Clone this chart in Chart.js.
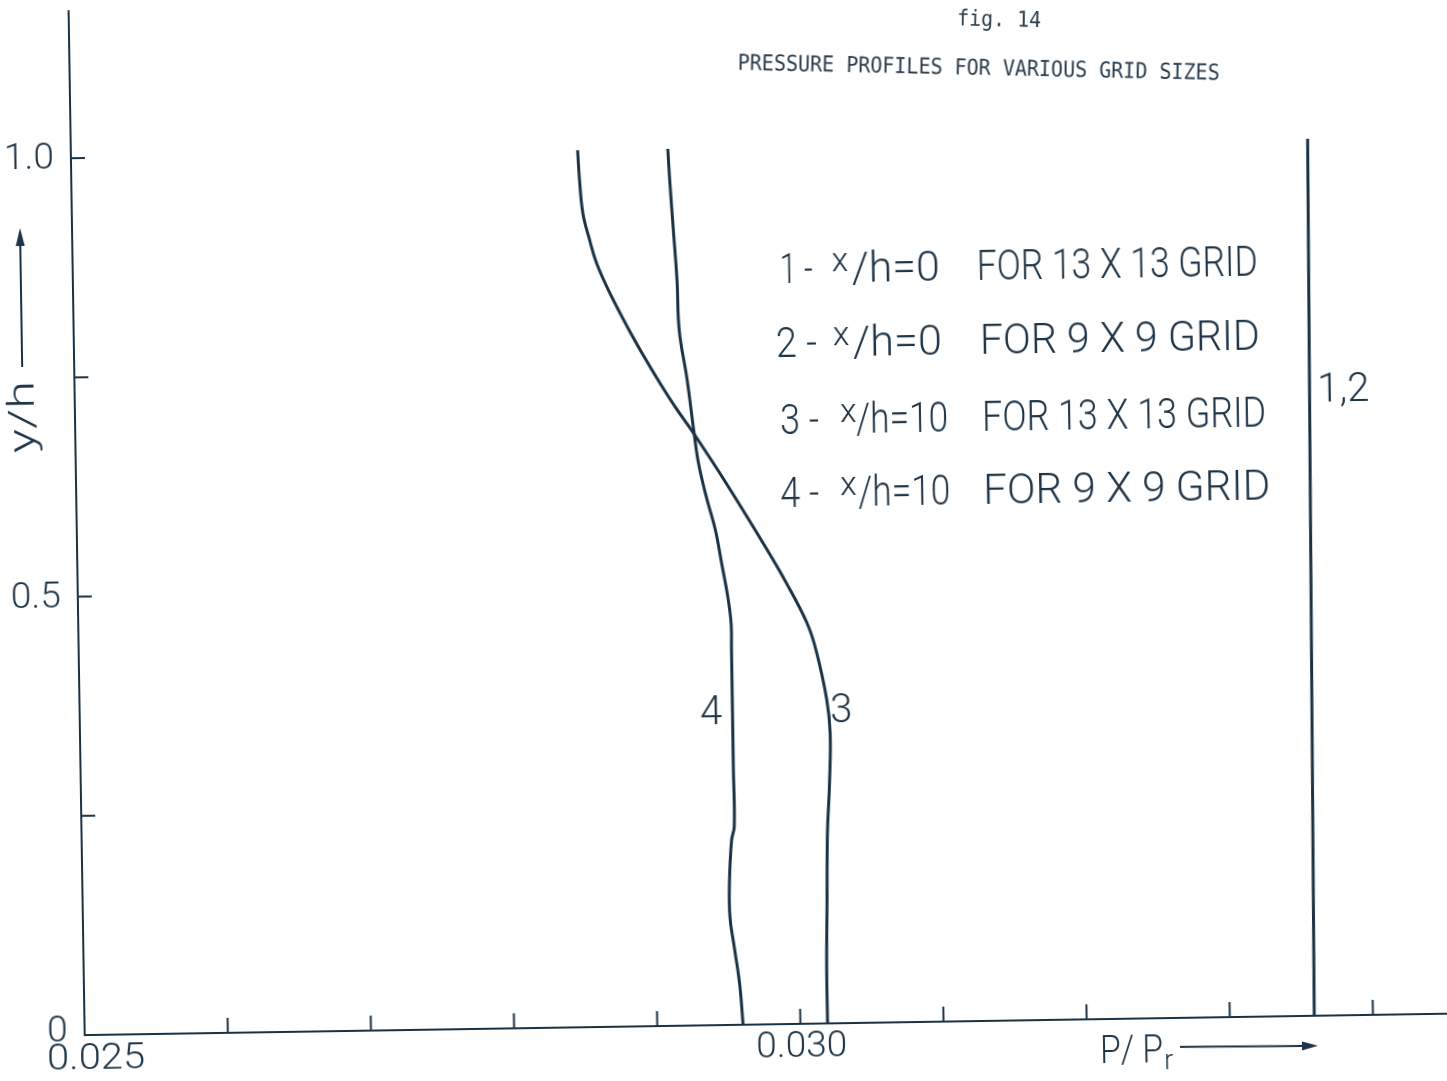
<!DOCTYPE html>
<html>
<head>
<meta charset="utf-8">
<title>Pressure profiles for various grid sizes</title>
<script src="https://cdn.jsdelivr.net/npm/chart.js@4.4.1/dist/chart.umd.min.js"></script>
<style>
  html, body { margin: 0; padding: 0; background: #fff; overflow: hidden; }
  /* the scanned sheet sits a little skewed */
  #wrap { width: 1447px; height: 1081px; transform: rotate(-0.9deg); transform-origin: 50% 50%; }
  canvas { display: block; }
</style>
</head>
<body>
<div id="wrap"><canvas id="chart" width="1447" height="1081"></canvas></div>
<script>
// ===============================
// data
// ===============================
const curve12X = [0.03359, 0.03364];
const curve12Y = [0, 1.0];

const curve3X = [0.02854, 0.02855, 0.02857, 0.02861, 0.02866, 0.02876, 0.02888, 0.02898, 0.02909,
  0.02920, 0.02932, 0.02954, 0.02982, 0.02995, 0.03009, 0.03015, 0.03022, 0.03024,
  0.03023, 0.03021, 0.03020, 0.03019, 0.03019];
const curve3Y = [1.0, 0.966, 0.928, 0.900, 0.871, 0.833, 0.794, 0.764, 0.733,
  0.704, 0.675, 0.618, 0.541, 0.503, 0.457, 0.426, 0.369, 0.331,
  0.274, 0.217, 0.141, 0.065, 0];

const curve4X = [0.02917, 0.02918, 0.02920, 0.02922, 0.02923, 0.02928, 0.02932, 0.02935,
  0.02940, 0.02946, 0.02950, 0.02954, 0.02956, 0.02956, 0.02956, 0.02956, 0.02956,
  0.02954, 0.02952, 0.02952, 0.02955, 0.02958, 0.02960];
const curve4Y = [1.0, 0.964, 0.907, 0.850, 0.793, 0.736, 0.679, 0.641,
  0.603, 0.565, 0.527, 0.488, 0.458, 0.428, 0.371, 0.294, 0.226,
  0.211, 0.162, 0.123, 0.085, 0.047, 0];

const xTickValues = [0.026, 0.027, 0.028, 0.029, 0.030, 0.031, 0.032, 0.033, 0.034];
const yTickValues = [0.25, 0.5, 0.75, 1.0];
const yLabelValues = [0, 0.5, 1.0];
const yLabels = ["0", "0.5", "1.0"];
const xLabelValues = [0.025, 0.030];
const xLabels = ["0.025", "0.030"];

const curveLabels = ["4", "3", "1,2"];
const curveLabelX = [0.02941, 0.03032, 0.03368];
const curveLabelY = [0.355, 0.355, 0.711];

const INK = "#1b3245";
const TEXT_INK = "#1f3446";
const LETTER = "'Roboto', 'Lato', 'DejaVu Sans', sans-serif";

function toPoints(xs, ys) {
  return xs.map((x, i) => ({ x: x, y: ys[i] }));
}

// stretch or squeeze a string so it covers the given width
function fitText(ctx, text, x, y, width) {
  const w = ctx.measureText(text).width;
  ctx.save();
  ctx.translate(x, y);
  ctx.scale(width / w, 1);
  ctx.fillText(text, 0, 0);
  ctx.restore();
}

function arrow(ctx, x1, y1, x2, y2, head) {
  const ang = Math.atan2(y2 - y1, x2 - x1);
  const bx = x2 - head * Math.cos(ang);
  const by = y2 - head * Math.sin(ang);
  ctx.beginPath();
  ctx.moveTo(x1, y1);
  ctx.lineTo(bx, by);
  ctx.stroke();
  ctx.beginPath();
  ctx.moveTo(x2, y2);
  ctx.lineTo(bx + 4.5 * Math.sin(ang), by - 4.5 * Math.cos(ang));
  ctx.lineTo(bx - 4.5 * Math.sin(ang), by + 4.5 * Math.cos(ang));
  ctx.closePath();
  ctx.fill();
}

const legendRows = [
  { num: "1 -", numX: 784, numW: 33, supX: 836, rest: "/h=0", restX: 856, restW: 88, grid: "FOR 13 X 13 GRID", gridX: 981, gridW: 281, base: 284 },
  { num: "2 -", numX: 779, numW: 41, supX: 836, rest: "/h=0", restX: 856, restW: 89, grid: "FOR 9 X 9 GRID", gridX: 983, gridW: 280, base: 358 },
  { num: "3 -", numX: 782, numW: 39, supX: 842, rest: "/h=10", restX: 858, restW: 92, grid: "FOR 13 X 13 GRID", gridX: 984, gridW: 284, base: 435 },
  { num: "4 -", numX: 781, numW: 39, supX: 841, rest: "/h=10", restX: 859, restW: 92, grid: "FOR 9 X 9 GRID", gridX: 984, gridW: 287, base: 508 },
];

// ===============================
// ticks, labels and lettering
// ===============================
const lettering = {
  id: "lettering",
  afterDraw(chart) {
    const ctx = chart.ctx;
    const x = chart.scales.x;
    const y = chart.scales.y;
    const area = chart.chartArea;

    ctx.save();
    ctx.strokeStyle = INK;
    ctx.fillStyle = TEXT_INK;
    ctx.lineWidth = 2;

    // inward tick marks
    xTickValues.forEach((v) => {
      const px = x.getPixelForValue(v);
      ctx.beginPath();
      ctx.moveTo(px, area.bottom);
      ctx.lineTo(px, area.bottom - 15);
      ctx.stroke();
    });
    yTickValues.forEach((v) => {
      const py = y.getPixelForValue(v);
      ctx.beginPath();
      ctx.moveTo(area.left, py);
      ctx.lineTo(area.left + 14, py);
      ctx.stroke();
    });

    // tick labels
    ctx.font = "300 37px " + LETTER;
    ctx.textBaseline = "middle";
    ctx.textAlign = "right";
    yLabelValues.forEach((v, i) => {
      const off = v === 0 ? -3 : 1;
      ctx.fillText(yLabels[i], area.left - 17, y.getPixelForValue(v) + off);
    });
    ctx.textAlign = "left";
    fitText(ctx, xLabels[0], x.getPixelForValue(xLabelValues[0]) - 38, area.bottom + 25, 98);
    ctx.textAlign = "center";
    ctx.fillText(xLabels[1], x.getPixelForValue(xLabelValues[1]) + 1, area.bottom + 24);

    // axis names
    ctx.textBaseline = "alphabetic";
    ctx.textAlign = "left";
    ctx.font = "300 38px " + LETTER;
    fitText(ctx, "P/ P", 1092, 1069, 63);
    ctx.font = "300 27px " + LETTER;
    ctx.fillText("r", 1156, 1076);
    ctx.lineWidth = 2;
    arrow(ctx, 1172, 1054, 1310, 1055, 16);

    ctx.save();
    ctx.translate(36, 406);
    ctx.rotate(-Math.PI / 2);
    ctx.font = "300 36px " + LETTER;
    fitText(ctx, "y/h", -36, 0, 72);
    ctx.restore();
    arrow(ctx, 25, 356, 25, 217, 18);

    // legend lines
    legendRows.forEach((r) => {
      ctx.font = "300 42px " + LETTER;
      fitText(ctx, r.num, r.numX, r.base, r.numW);
      fitText(ctx, r.rest, r.restX, r.base, r.restW);
      fitText(ctx, r.grid, r.gridX, r.base, r.gridW);
      ctx.font = "300 34px " + LETTER;
      ctx.fillText("x", r.supX, r.base - 11);
    });

    // curve numbers
    ctx.font = "300 40px " + LETTER;
    ctx.textBaseline = "middle";
    curveLabels.forEach((t, i) => {
      ctx.textAlign = i === 2 ? "left" : "center";
      ctx.fillText(t, x.getPixelForValue(curveLabelX[i]), y.getPixelForValue(curveLabelY[i]));
    });

    // typed caption
    ctx.textBaseline = "alphabetic";
    ctx.textAlign = "left";
    ctx.fillStyle = "#2b3c4c";
    ctx.font = "22px 'DejaVu Sans Mono', monospace";
    ctx.save();
    ctx.translate(965, 29);
    ctx.rotate(2.1 * Math.PI / 180);
    fitText(ctx, "fig. 14", 0, 0, 84);
    ctx.restore();
    ctx.save();
    ctx.translate(745, 70);
    ctx.rotate(2.1 * Math.PI / 180);
    fitText(ctx, "PRESSURE PROFILES FOR VARIOUS GRID SIZES", 0, 0, 482);
    ctx.restore();

    ctx.restore();
  },
};

function lineSet(label, xs, ys) {
  return {
    label: label,
    data: toPoints(xs, ys),
    showLine: true,
    borderColor: INK,
    backgroundColor: INK,
    borderWidth: 3,
    tension: 0.4,
    pointRadius: 0,
    pointHoverRadius: 0,
  };
}

function init() {
  const ctx = document.getElementById("chart").getContext("2d");
  new Chart(ctx, {
    type: "scatter",
    data: {
      datasets: [
        lineSet("1,2", curve12X, curve12Y),
        lineSet("3", curve3X, curve3Y),
        lineSet("4", curve4X, curve4Y),
      ],
    },
    options: {
      responsive: false,
      animation: false,
      devicePixelRatio: 1,
      layout: { padding: { left: 77, right: 0, top: 0, bottom: 56 } },
      plugins: { legend: { display: false }, tooltip: { enabled: false } },
      scales: {
        x: {
          type: "linear",
          min: 0.025,
          max: 0.03457,
          ticks: { display: false },
          grid: { display: true, drawOnChartArea: false, drawTicks: false },
          border: { display: true, color: INK, width: 2 },
          afterFit(scale) { scale.height = 0; },
        },
        y: {
          type: "linear",
          min: 0,
          max: 1.1688,
          ticks: { display: false },
          grid: { display: true, drawOnChartArea: false, drawTicks: false },
          border: { display: true, color: INK, width: 2 },
          afterFit(scale) { scale.width = 0; },
        },
      },
    },
    plugins: [lettering],
  });
}

window.addEventListener("load", init);
</script>
</body>
</html>
